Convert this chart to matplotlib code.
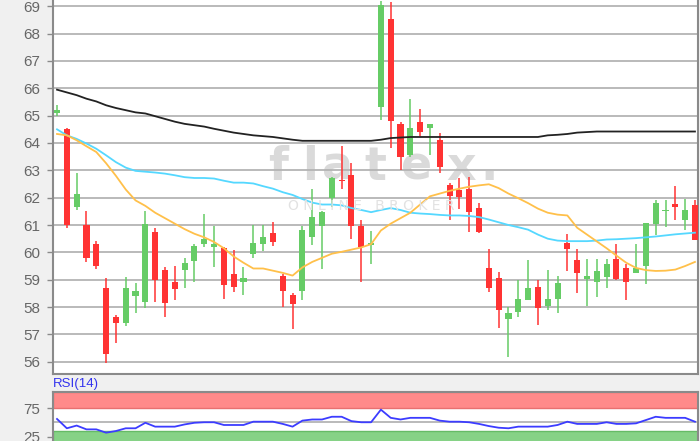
import numpy as np
import matplotlib.pyplot as plt

plt.rcParams['font.family'] = ['Liberation Sans', 'DejaVu Sans']

# daily candles
opens = [65.1, 64.5, 61.65, 61.0, 60.3, 58.7, 57.65, 57.4, 58.42, 58.2,
         60.75, 59.35, 58.9, 59.37, 59.7, 60.3, 60.2, 60.15, 59.2, 58.9,
         59.93, 60.3, 60.72, 59.15, 58.43, 58.58, 60.56, 60.95, 62.0, 62.65,
         62.82, 60.95, 60.28, 65.32, 68.55, 64.7, 63.56, 64.77, 64.55, 64.1,
         62.45, 62.28, 62.33, 61.64, 59.41, 59.08, 57.55, 57.82, 58.25, 58.74,
         58.03, 58.31, 60.35, 59.71, 59.03, 58.92, 59.1, 59.74, 59.41, 59.25,
         59.49, 61.05, 61.51, 61.78, 61.17, 61.72]
highs = [65.38, 64.55, 62.9, 61.5, 60.4, 59.05, 57.7, 59.1, 58.88, 61.5,
         60.9, 59.45, 59.5, 59.8, 60.3, 61.4, 60.95, 60.2, 60.1, 59.45,
         61.0, 61.0, 61.1, 59.2, 58.5, 60.95, 62.33, 61.5, 62.75, 63.88,
         63.25, 61.2, 60.78, 69.2, 69.16, 64.75, 65.6, 65.23, 64.7, 64.35,
         62.53, 62.72, 62.75, 61.8, 60.14, 59.28, 58.0, 59.0, 59.71, 59.0,
         59.37, 59.13, 60.66, 60.14, 59.77, 59.74, 59.74, 60.3, 59.57, 60.3,
         61.07, 61.9, 61.9, 62.41, 61.96, 61.9]
lows = [65.0, 60.9, 61.55, 59.65, 59.4, 55.95, 56.7, 57.3, 57.8, 57.95,
        58.2, 57.65, 58.25, 58.7, 58.9, 60.2, 59.45, 58.3, 58.55, 58.43,
        59.8, 60.05, 60.23, 58.0, 57.2, 58.25, 60.26, 59.4, 61.66, 62.33,
        60.5, 58.92, 59.59, 64.85, 63.8, 63.03, 63.5, 64.24, 63.55, 62.92,
        61.17, 61.6, 60.75, 60.7, 58.55, 57.22, 56.18, 57.64, 58.25, 57.34,
        57.91, 57.77, 59.32, 58.52, 58.03, 58.35, 58.68, 58.98, 58.25, 59.25,
        58.84, 60.62, 60.93, 61.17, 60.8, 60.44]
closes = [65.2, 61.0, 62.15, 59.8, 59.5, 56.3, 57.4, 58.7, 58.6, 61.05,
          59.0, 58.15, 58.65, 59.6, 60.25, 60.5, 60.3, 58.8, 58.75, 59.05,
          60.35, 60.55, 60.38, 58.6, 58.1, 60.83, 61.29, 61.47, 62.72, 62.6,
          60.95, 60.2, 60.32, 69.04, 64.81, 63.49, 64.56, 64.4, 64.68, 63.13,
          62.05, 62.02, 61.47, 60.75, 58.68, 57.89, 57.79, 58.31, 58.7, 57.98,
          58.31, 58.88, 60.14, 59.25, 59.13, 59.31, 59.59, 59.04, 58.92, 59.43,
          61.07, 61.82, 61.56, 61.66, 61.54, 60.47]

# moving averages
ma_long = [65.95, 65.85, 65.75, 65.62, 65.52, 65.38, 65.28, 65.2, 65.12, 65.08,
           64.98, 64.88, 64.78, 64.7, 64.65, 64.6, 64.52, 64.45, 64.38, 64.33,
           64.28, 64.25, 64.22, 64.17, 64.12, 64.08, 64.08, 64.08, 64.08, 64.08,
           64.08, 64.08, 64.08, 64.12, 64.18, 64.2, 64.22, 64.22, 64.22, 64.22,
           64.22, 64.22, 64.22, 64.22, 64.22, 64.22, 64.22, 64.22, 64.22, 64.22,
           64.28, 64.3, 64.33, 64.38, 64.4, 64.42, 64.42, 64.42, 64.42, 64.42,
           64.42, 64.42, 64.42, 64.42, 64.42, 64.42]
ma_mid = [64.5, 64.28, 64.15, 63.98, 63.79, 63.55, 63.3, 63.1, 62.98, 62.95,
          62.92, 62.88, 62.82, 62.75, 62.72, 62.72, 62.7, 62.62, 62.55, 62.55,
          62.52, 62.42, 62.33, 62.2, 62.1, 61.95, 61.82, 61.75, 61.75, 61.72,
          61.62, 61.55, 61.47, 61.55, 61.62, 61.55, 61.45, 61.42, 61.4, 61.37,
          61.35, 61.35, 61.33, 61.29, 61.2, 61.1, 61.0, 60.92, 60.83, 60.65,
          60.5, 60.43, 60.41, 60.41, 60.41, 60.43, 60.47, 60.48, 60.5, 60.52,
          60.55, 60.58, 60.62, 60.66, 60.69, 60.72]
ma_short = [64.33, 64.28, 64.1, 63.88, 63.67, 63.26, 62.8, 62.3, 61.9, 61.7,
            61.45, 61.25, 61.05, 60.85, 60.68, 60.55, 60.38, 60.15, 59.85, 59.62,
            59.41, 59.41, 59.33, 59.25, 59.15, 59.45, 59.65, 59.8, 59.95, 60.02,
            60.1, 60.18, 60.3, 60.8, 61.05, 61.25, 61.45, 61.75, 62.05, 62.15,
            62.25, 62.33, 62.4, 62.45, 62.49, 62.35, 62.15, 61.98, 61.8, 61.6,
            61.45, 61.38, 61.35, 60.9, 60.65, 60.4, 60.15, 59.88, 59.62, 59.43,
            59.35, 59.32, 59.33, 59.37, 59.5, 59.65]

rsi = [56.2, 39.8, 44.6, 37.9, 37.9, 32.1, 35.0, 39.8, 39.8, 49.5,
       42.7, 42.7, 42.7, 46.6, 49.5, 50.4, 50.4, 45.6, 45.6, 45.6,
       51.4, 51.4, 51.4, 47.5, 42.7, 53.3, 55.3, 55.3, 60.1, 60.1,
       52.4, 50.4, 50.4, 72.6, 58.2, 55.3, 58.2, 58.2, 58.2, 53.3,
       51.4, 51.4, 50.4, 47.5, 43.7, 40.8, 39.8, 42.7, 42.7, 42.7,
       42.7, 45.6, 51.4, 47.5, 47.5, 47.5, 50.4, 47.5, 47.5, 48.5,
       54.3, 60.1, 58.2, 58.2, 58.2, 51.4]

price_ticks = list(range(56, 70))
rsi_ticks = [25, 75]

UP = '#66cc66'
DOWN = '#ff3333'
GRID = '#b4b4b4'
SPINE = '#8a8a8a'
LABEL = '#666666'
W, H = 700, 441


def draw_candles(ax, o, h, l, c, width=0.62):
    x = np.arange(len(o))
    o = np.array(o)
    c = np.array(c)
    colors = np.where(c >= o, UP, DOWN)
    ax.vlines(x, l, h, colors=colors, lw=1.1, zorder=3)
    bottom = np.minimum(o, c)
    height = np.maximum(np.abs(c - o), 0.05)
    ax.bar(x, height, width, bottom=bottom, color=colors, zorder=4)


def style_axes(ax):
    for side in ['left', 'right', 'bottom', 'top']:
        ax.spines[side].set_color(SPINE)
        ax.spines[side].set_linewidth(1.5)
    ax.tick_params(axis='y', colors=SPINE, labelcolor=LABEL, labelsize=11,
                   length=4, width=1, pad=5)
    ax.tick_params(axis='x', bottom=False, labelbottom=False)


fig = plt.figure(figsize=(W / 100, H / 100), dpi=100, facecolor='#f0f0f0')

# price panel
ax = fig.add_axes([53 / W, 1 - 374.3 / H, 645 / W, 374.3 / H], facecolor='white')
n = len(opens)
ax.set_xlim(-0.41, 65.31)
ax.set_ylim(55.54, 69.23)
ax.set_yticks(price_ticks)
for t in price_ticks:
    ax.axhline(t, color=GRID, lw=1.3, zorder=0)
style_axes(ax)
ax.spines['top'].set_visible(False)

# watermark
letters = ['f', 'l', 'a', 't', 'e', 'x', '.']
letter_x = [278, 310, 338, 375, 417, 461, 489]
for ch, px in zip(letters, letter_x):
    fig.text(px / W, 1 - 180 / H, ch, ha='center', va='baseline',
             fontsize=33, fontweight='bold', color='#dadada',
             family='DejaVu Sans', zorder=0.5)
fig.text(371 / W, 1 - 206 / H, 'O N L I N E   B R O K E R', ha='center',
         va='center', fontsize=10, color='#e2e2e2', family='DejaVu Sans')
ax.set_zorder(1)
ax.patch.set_alpha(0)
fig.patches.append(plt.Rectangle((53 / W, 1 - 374.3 / H), 645 / W, 374.3 / H,
                                 transform=fig.transFigure, color='white',
                                 zorder=0))

draw_candles(ax, opens, highs, lows, closes)
x = np.arange(n)
ax.plot(x, ma_long, color='#222222', lw=1.3, zorder=5)
ax.plot(x, ma_mid, color='#55d8ff', lw=1.3, zorder=5)
ax.plot(x, ma_short, color='#ffc04a', lw=1.3, zorder=5)

# RSI panel
rax = fig.add_axes([53 / W, 1 - 450.9 / H, 645 / W, 59.2 / H], facecolor='white')
rax.set_xlim(-0.41, 65.31)
rax.set_ylim(0, 104.2)
rax.axhspan(75, 104.2, facecolor='#ff8a8a', edgecolor='#e87070', lw=1, zorder=1)
rax.axhspan(0, 35.5, facecolor='#86d286', edgecolor='#66bb66', lw=1, zorder=1)
rax.axhline(50, color=GRID, lw=1.3, zorder=2)
rax.plot(x, rsi, color='#3c3cff', lw=1.3, zorder=3)
rax.set_yticks(rsi_ticks)
style_axes(rax)
fig.text(53 / W, 1 - 384 / H, 'RSI(14)', color='#3333ee', fontsize=9.5,
         va='center', ha='left')

fig.savefig('out.png', dpi=100, facecolor=fig.get_facecolor())
